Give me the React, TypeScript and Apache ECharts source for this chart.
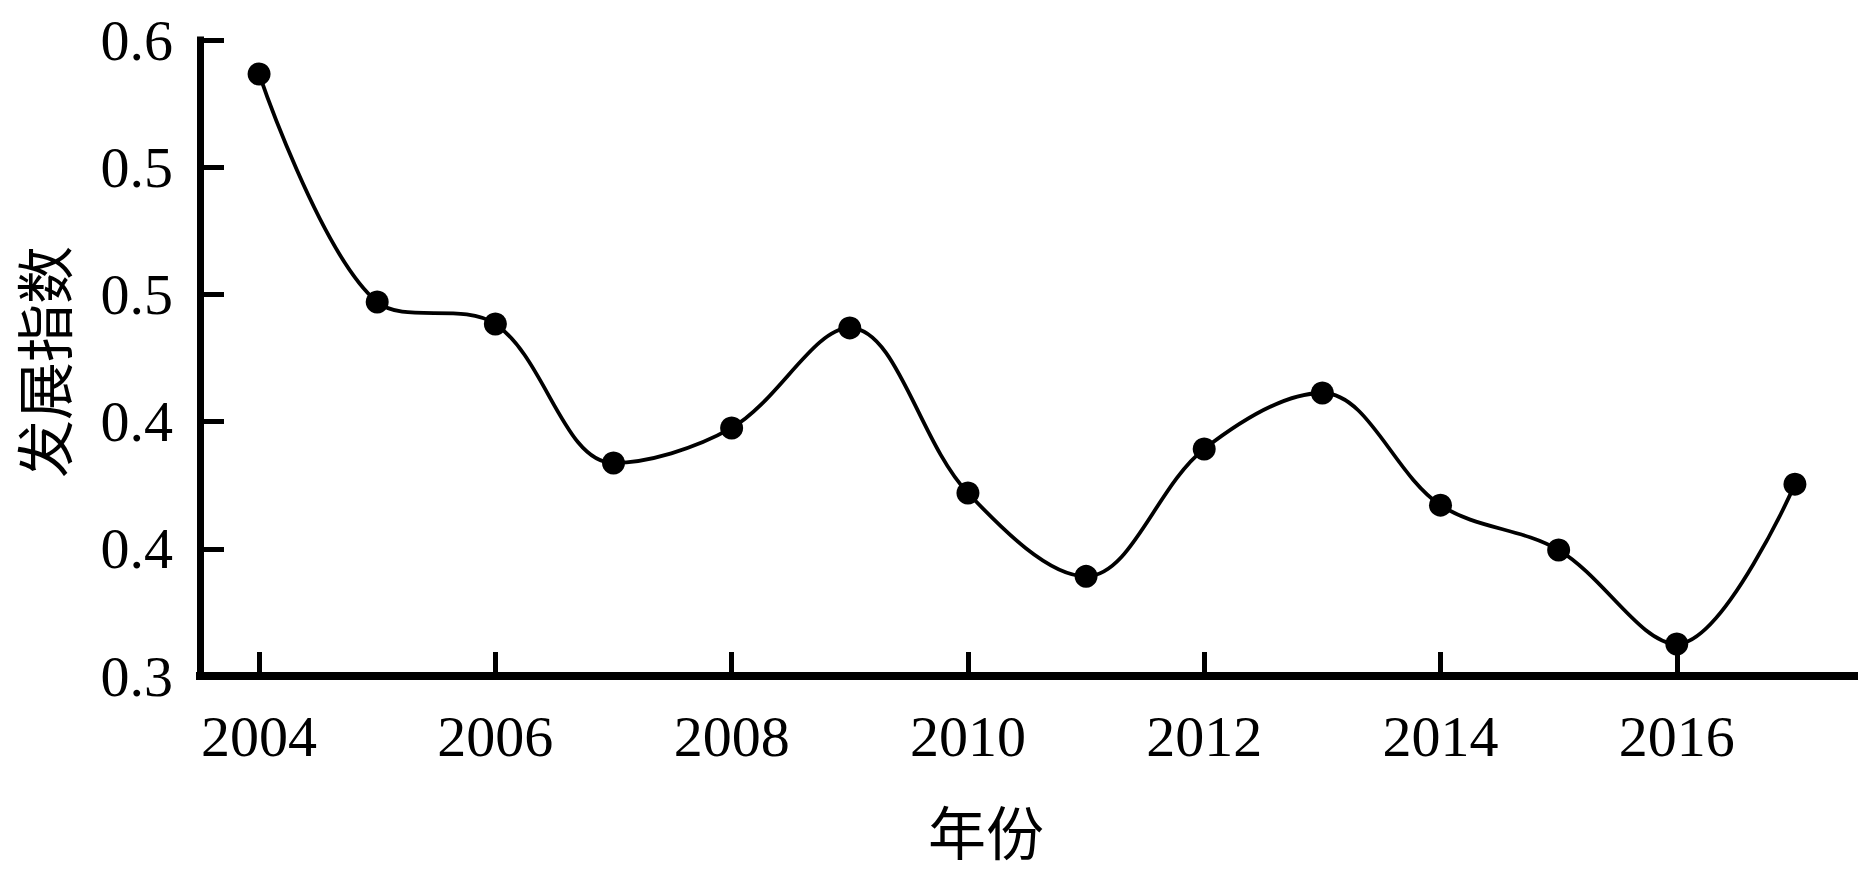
import React, { useEffect, useRef } from "react";
import * as echarts from "echarts";

const years = ["2004", "2005", "2006", "2007", "2008", "2009", "2010", "2011", "2012", "2013", "2014", "2015", "2016", "2017"];
const indexValues = [0.584, 0.4764, 0.466, 0.4005, 0.417, 0.4642, 0.3863, 0.347, 0.4071, 0.4335, 0.3806, 0.3594, 0.3151, 0.3905];
const xAxisName = "年份";
const yAxisName = "发展指数";

const SERIF = "'Liberation Serif', 'Times New Roman', 'Noto Sans CJK SC', serif";
const CJK = "'Noto Sans CJK SC', 'Liberation Serif', serif";

export default function App() {
  const ref = useRef<HTMLDivElement>(null);
  useEffect(() => {
    if (!ref.current) return;
    const chart = echarts.init(ref.current, null, { renderer: "svg" });
    chart.setOption({
      animation: false,
      backgroundColor: "#ffffff",
      grid: { left: 200, right: 12, top: 40, bottom: 196, containLabel: false },
      xAxis: {
        type: "category",
        data: years,
        boundaryGap: true,
        axisLine: { show: true, lineStyle: { color: "#000", width: 8, cap: "square" } },
        axisTick: { show: true, inside: true, length: 24, alignWithLabel: true, interval: 1, lineStyle: { color: "#000", width: 5 } },
        axisLabel: { interval: 1, margin: 31, color: "#000", fontFamily: SERIF, fontSize: 58 },
        splitLine: { show: false },
      },
      yAxis: {
        type: "value",
        min: 0.3,
        max: 0.6,
        interval: 0.06,
        axisLine: { show: true, lineStyle: { color: "#000", width: 7, cap: "square" } },
        axisTick: { show: true, inside: true, length: 24, lineStyle: { color: "#000", width: 5 } },
        axisLabel: {
          margin: 27,
          color: "#000",
          fontFamily: SERIF,
          fontSize: 58,
          formatter: (v: number) => v.toFixed(1),
        },
        splitLine: { show: false },
      },
      graphic: [
        {
          type: "text",
          x: 986,
          y: 830,
          style: { text: xAxisName, fontFamily: CJK, fontSize: 58, lineHeight: 58, fill: "#000", textAlign: "center", textVerticalAlign: "middle" },
        },
        {
          type: "text",
          x: 42,
          y: 362,
          rotation: Math.PI / 2,
          style: { text: yAxisName, fontFamily: CJK, fontSize: 58, lineHeight: 58, fill: "#000", textAlign: "center", textVerticalAlign: "middle" },
        },
      ],
      series: [
        {
          type: "line",
          data: indexValues,
          smooth: 0.35,
          symbol: "circle",
          symbolSize: 23,
          itemStyle: { color: "#000" },
          lineStyle: { color: "#000", width: 3.8 },
        },
      ],
    });
    return () => chart.dispose();
  }, []);
  return (
    <div
      ref={ref}
      style={{ position: "fixed", left: 0, top: 0, width: 1866, height: 872, background: "#fff" }}
    />
  );
}
